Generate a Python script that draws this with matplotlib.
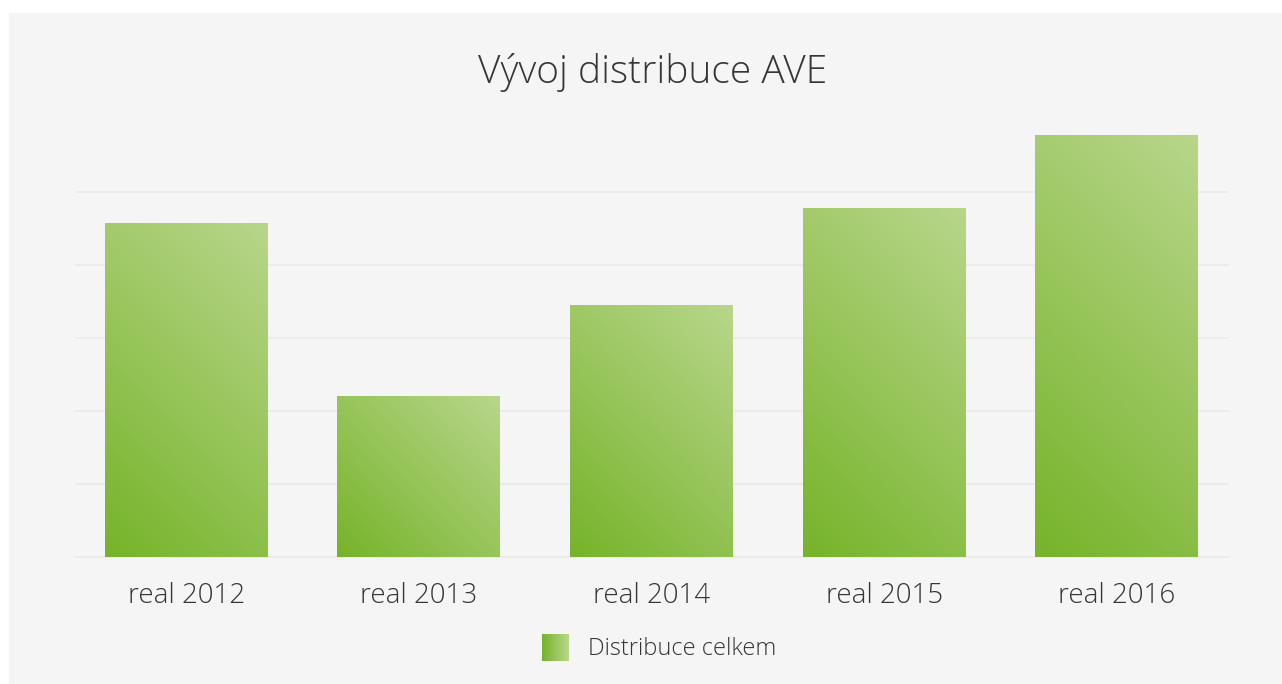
import numpy as np
import matplotlib
matplotlib.use("Agg")
import matplotlib.pyplot as plt
from matplotlib.colors import LinearSegmentedColormap
from matplotlib.patches import Rectangle

# Data
categories = ["real 2012", "real 2013", "real 2014", "real 2015", "real 2016"]
values = [4.575, 2.205, 3.44, 4.77, 5.78]
series_name = "Distribuce celkem"
title = "Vývoj distribuce AVE"

W, H = 1282, 684
fig = plt.figure(figsize=(W / 100, H / 100), dpi=100)
fig.patch.set_facecolor("white")
# gray panel
fig.patches.append(Rectangle((9 / W, 0), 1 - 9 / W, 1 - 13 / H, transform=fig.transFigure,
                             facecolor="#f5f5f5", edgecolor="none", zorder=-10))

font = ["Open Sans", "DejaVu Sans"]
txt_color = "#363636"

left_px, right_px = 70, 1233
base_px, top_px = 557, 119
ax = fig.add_axes([left_px / W, (H - base_px) / H, (right_px - left_px) / W, (base_px - top_px) / H])
ax.set_facecolor("none")
ax.set_xlim(-0.5, len(categories) - 0.5)
ax.set_ylim(0, 6)
for s in ax.spines.values():
    s.set_visible(False)
ax.set_yticks([])
ax.set_xticks(range(len(categories)))
ax.set_xticklabels(categories, fontsize=20, color=txt_color, family=font, fontweight="light")
ax.tick_params(axis="x", length=0, pad=18)

# gridlines
gx0 = (76 - left_px) / (right_px - left_px)
gx1 = (1228 - left_px) / (right_px - left_px)
trans = matplotlib.transforms.blended_transform_factory(ax.transAxes, ax.transData)
for g in range(0, 6):
    ax.plot([gx0, gx1], [g, g], transform=trans, color="#e8e8e8", lw=1.1, zorder=1, clip_on=False)

cmap = LinearSegmentedColormap.from_list("g", ["#76b42a", "#b8d68b"])
bw = 0.70
px_per_x = (right_px - left_px) / len(categories)
px_per_y = (base_px - top_px) / 6.0
for i, v in enumerate(values):
    x0, x1 = i - bw / 2, i + bw / 2
    wpx = bw * px_per_x
    hpx = v * px_per_y
    nx, ny = 60, 120
    xf = np.linspace(0, 1, nx)[None, :]
    yf = np.linspace(0, 1, ny)[:, None]
    t = (xf * wpx + yf * hpx) / (wpx + hpx)
    ax.imshow(t, cmap=cmap, vmin=0, vmax=1, origin="lower", extent=[x0, x1, 0, v],
              aspect="auto", interpolation="bilinear", zorder=2)
ax.set_xlim(-0.5, len(categories) - 0.5)
ax.set_ylim(0, 6)

# title
fig.text(653 / W, 1 - 72 / H, title, ha="center", va="center", fontsize=28,
         color=txt_color, family=font, fontweight="light")

# legend
sw = fig.add_axes([542 / W, (H - 661) / H, 27 / W, 27 / H])
sw.imshow(np.linspace(0, 1, 50)[None, :], cmap=cmap, vmin=0, vmax=1, aspect="auto", extent=[0, 1, 0, 1])
sw.axis("off")
fig.text(588 / W, 1 - 649 / H, series_name, ha="left", va="center", fontsize=17,
         color=txt_color, family=font, fontweight="light")

fig.savefig("out.png", dpi=100, facecolor=fig.get_facecolor())
